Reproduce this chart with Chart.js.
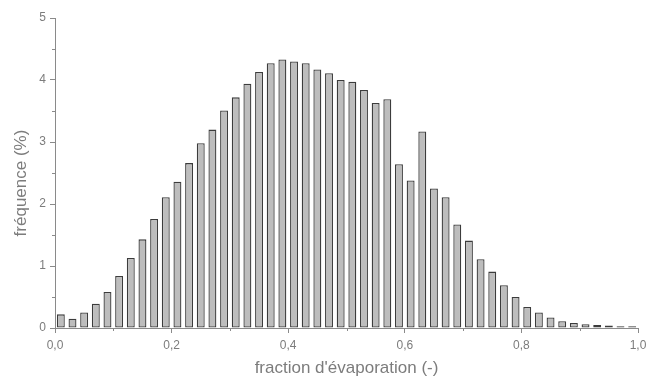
<!DOCTYPE html>
<html>
<head>
<meta charset="utf-8">
<script src="https://cdn.jsdelivr.net/npm/chart.js@4/dist/chart.umd.min.js"></script>
<style>
  html, body { margin: 0; padding: 0; background: #ffffff; }
  canvas { display: block; }
</style>
</head>
<body>
<canvas id="c" width="655" height="378"></canvas>
<script>
// Bin centres (fraction d'évaporation), bin width 0.02
const binCenters = [
  0.01, 0.03, 0.05, 0.07, 0.09, 0.11, 0.13, 0.15, 0.17, 0.19,
  0.21, 0.23, 0.25, 0.27, 0.29, 0.31, 0.33, 0.35, 0.37, 0.39,
  0.41, 0.43, 0.45, 0.47, 0.49, 0.51, 0.53, 0.55, 0.57, 0.59,
  0.61, 0.63, 0.65, 0.67, 0.69, 0.71, 0.73, 0.75, 0.77, 0.79,
  0.81, 0.83, 0.85, 0.87, 0.89, 0.91, 0.93, 0.95, 0.97, 0.99
];
// Fréquence (%)
const frequency = [
  0.22, 0.15, 0.25, 0.39, 0.58, 0.84, 1.13, 1.43, 1.76, 2.11,
  2.36, 2.66, 2.98, 3.20, 3.51, 3.72, 3.94, 4.13, 4.27, 4.33,
  4.30, 4.27, 4.17, 4.11, 4.00, 3.97, 3.84, 3.63, 3.69, 2.64,
  2.38, 3.17, 2.25, 2.11, 1.67, 1.41, 1.11, 0.91, 0.69, 0.50,
  0.34, 0.25, 0.17, 0.11, 0.08, 0.06, 0.05, 0.04, 0.03, 0.03
];
const xMinorTicks = [0.1, 0.3, 0.5, 0.7, 0.9];
const yMinorTicks = [0.5, 1.5, 2.5, 3.5, 4.5];
const xTitle = "fraction d'évaporation (-)";
const yTitle = "fréquence (%)";

const axisGray = '#8a8a8a';
const textGray = '#7c7c7c';
const fontFamily = 'Liberation Sans, Arial, sans-serif';

const extrasPlugin = {
  id: 'extras',
  afterDraw(chart) {
    const ctx = chart.ctx;
    const xs = chart.scales.x, ys = chart.scales.y;
    ctx.save();
    ctx.strokeStyle = axisGray;
    ctx.lineWidth = 1;
    ctx.beginPath();
    xMinorTicks.forEach(v => {
      const px = Math.round(xs.getPixelForValue(v)) + 0.5;
      ctx.moveTo(px, xs.top);
      ctx.lineTo(px, xs.top + 3);
    });
    yMinorTicks.forEach(v => {
      const py = Math.round(ys.getPixelForValue(v)) + 0.5;
      ctx.moveTo(ys.right - 3, py);
      ctx.lineTo(ys.right, py);
    });
    ctx.stroke();
    // y axis title
    ctx.fillStyle = textGray;
    ctx.font = '17px ' + fontFamily;
    ctx.textAlign = 'center';
    ctx.textBaseline = 'middle';
    ctx.translate(21, (ys.top + ys.bottom) / 2 + 10);
    ctx.rotate(-Math.PI / 2);
    ctx.fillText(yTitle, 0, 0);
    ctx.restore();
  }
};

new Chart(document.getElementById('c'), {
  type: 'bar',
  data: {
    datasets: [{
      data: binCenters.map((x, i) => ({ x: x, y: frequency[i] })),
      backgroundColor: '#bdbdbd',
      borderColor: '#3c3c3c',
      borderWidth: 1.3,
      borderSkipped: false,
      barPercentage: 0.85,
      categoryPercentage: 0.8
    }]
  },
  options: {
    responsive: false,
    animation: false,
    layout: { padding: { top: 18, right: 17, left: 0, bottom: 0 } },
    plugins: { legend: { display: false }, tooltip: { enabled: false } },
    scales: {
      x: {
        type: 'linear',
        min: 0, max: 1,
        offset: false,
        afterFit(s) { s.height = 50; },
        grid: { display: true, drawOnChartArea: false, drawTicks: true, tickLength: 5, color: axisGray, offset: false },
        border: { display: true, color: axisGray, width: 1 },
        ticks: {
          stepSize: 0.2,
          padding: 5,
          maxRotation: 0,
          color: textGray,
          font: { family: fontFamily, size: 12 },
          callback: v => v.toFixed(1).replace('.', ',')
        },
        title: {
          display: true,
          text: xTitle,
          color: textGray,
          font: { family: fontFamily, size: 17, lineHeight: 1 },
          padding: { top: 0, bottom: 1 }
        }
      },
      y: {
        min: 0, max: 5,
        afterFit(s) { s.width = 55; },
        grid: { display: true, drawOnChartArea: false, drawTicks: true, tickLength: 5, color: axisGray },
        border: { display: true, color: axisGray, width: 1 },
        ticks: {
          stepSize: 1,
          padding: 4,
          color: textGray,
          font: { family: fontFamily, size: 12 }
        },
        title: { display: false }
      }
    }
  },
  plugins: [extrasPlugin]
});
</script>
</body>
</html>
